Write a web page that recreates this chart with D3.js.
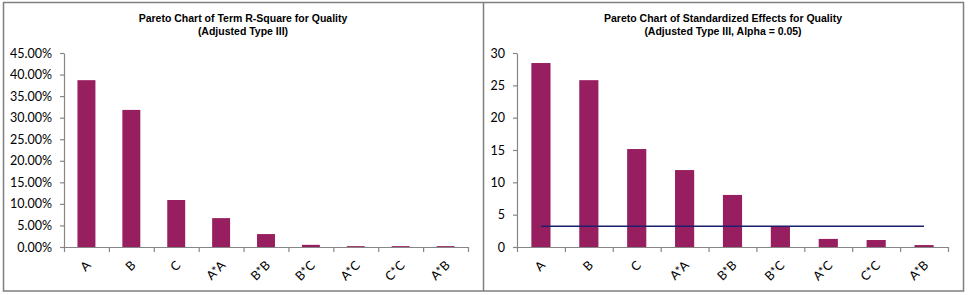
<!DOCTYPE html>
<html>
<head>
<meta charset="utf-8">
<script src="https://cdn.jsdelivr.net/npm/d3@7"></script>
<style>
  body { margin: 0; background: #fff; }
  svg { display: block; }
</style>
</head>
<body>
<svg id="chart" width="979" height="295"></svg>
<script>
// terms, shared by both panels
var terms = ['A', 'B', 'C', 'A*A', 'B*B', 'B*C', 'A*C', 'C*C', 'A*B'];

// left panel: term R-square
var rsqValues = [0.387, 0.318, 0.109, 0.067, 0.030, 0.005, 0.002, 0.002, 0.002];
var rsqTicks = [0, 0.05, 0.10, 0.15, 0.20, 0.25, 0.30, 0.35, 0.40, 0.45];

// right panel: standardized effects + critical value line
var effectValues = [28.45, 25.8, 15.15, 11.9, 8.05, 3.2, 1.25, 1.08, 0.3];
var effectTicks = [0, 5, 10, 15, 20, 25, 30];
var criticalValue = 3.2;

var barColor = '#981f5f',
  lineColor = '#1c1f6e',
  axisColor = '#868686',
  frameColor = '#7f7f7f';

var svg = d3.select('#chart');

// outer frame with divider
svg.append('rect')
  .attr('x', 3.5).attr('y', 2.5)
  .attr('width', 960).attr('height', 288.5)
  .attr('fill', 'none')
  .attr('stroke', frameColor)
  .attr('stroke-width', 1.5);
svg.append('line')
  .attr('x1', 483.5).attr('x2', 483.5)
  .attr('y1', 2.5).attr('y2', 291)
  .attr('stroke', frameColor)
  .attr('stroke-width', 1.5);

function drawPanel(opt) {
  var g = svg.append('g');

  var title = g.append('text')
    .attr('x', opt.cx)
    .attr('y', 22)
    .attr('text-anchor', 'middle')
    .style('font-family', 'Arial, "Liberation Sans", sans-serif')
    .style('font-weight', 'bold')
    .style('font-size', '10.5px');
  title.append('tspan').attr('x', opt.cx).text(opt.title[0]);
  title.append('tspan').attr('x', opt.cx).attr('dy', 13).text(opt.title[1]);

  var x = d3.scaleBand()
    .domain(terms)
    .range([opt.left, opt.right])
    .padding(0);
  var step = x.step();

  var xb = d3.scaleLinear()
    .domain([0, terms.length])
    .range([opt.left, opt.right]);

  var y = d3.scaleLinear()
    .domain(opt.domain)
    .range([247, 53]);

  // bars
  g.selectAll('rect.bar')
    .data(opt.values)
    .enter()
    .append('rect')
    .classed('bar', true)
    .attr('x', function(d, i) { return x(terms[i]) + step * 0.3; })
    .attr('width', step * 0.4)
    .attr('y', function(d) { return y(d); })
    .attr('height', function(d) { return y(0) - y(d); })
    .attr('fill', barColor);

  // y axis
  var yAxis = g.append('g')
    .attr('transform', 'translate(' + opt.left + ',0)')
    .call(d3.axisLeft(y)
      .tickValues(opt.ticks)
      .tickFormat(opt.format)
      .tickSize(4)
      .tickSizeOuter(0)
      .tickPadding(8));

  // x axis, ticks on category boundaries
  var xAxis = g.append('g')
    .attr('transform', 'translate(0,' + y(0) + ')')
    .call(d3.axisBottom(xb)
      .tickValues(d3.range(0, terms.length + 1))
      .tickFormat('')
      .tickSize(5)
      .tickSizeOuter(0));

  [yAxis, xAxis].forEach(function(a) {
    a.selectAll('path, line').attr('stroke', axisColor).attr('stroke-width', 1.2);
    a.selectAll('text')
      .attr('fill', '#000')
      .style('font-family', 'Lato, "Open Sans", sans-serif')
      .style('font-size', '12.5px');
  });

  // rotated category labels
  g.selectAll('text.cat')
    .data(terms)
    .enter()
    .append('text')
    .classed('cat', true)
    .attr('transform', function(d) {
      return 'translate(' + (x(d) + step / 2 + 2) + ',' + 263 + ') rotate(-45)';
    })
    .attr('text-anchor', 'end')
    .attr('dy', '0.35em')
    .style('font-family', 'Lato, "Open Sans", sans-serif')
    .style('font-size', '12.5px')
    .text(function(d) { return d; });

  return { g: g, x: x, y: y };
}

drawPanel({
  cx: 243,
  left: 64,
  right: 468,
  domain: [0, 0.45],
  ticks: rsqTicks,
  format: d3.format('.2%'),
  values: rsqValues,
  title: ['Pareto Chart of Term R-Square for Quality', '(Adjusted Type III)']
});

var right = drawPanel({
  cx: 723,
  left: 517,
  right: 948,
  domain: [0, 30],
  ticks: effectTicks,
  format: d3.format('d'),
  values: effectValues,
  title: ['Pareto Chart of Standardized Effects for Quality', '(Adjusted Type III, Alpha = 0.05)']
});

// critical value line across category centres
var critical = terms.map(function(t) { return { t: t, v: criticalValue }; });
right.g.append('path')
  .datum(critical)
  .attr('fill', 'none')
  .attr('stroke', lineColor)
  .attr('stroke-width', 1.5)
  .attr('d', d3.line()
    .x(function(d) { return right.x(d.t) + right.x.step() / 2; })
    .y(function(d) { return right.y(d.v); }));
</script>
</body>
</html>
